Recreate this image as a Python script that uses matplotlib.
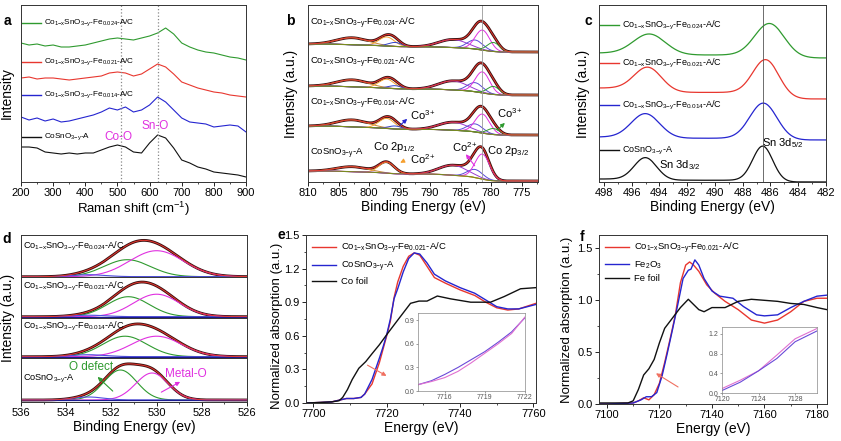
import numpy as np
import matplotlib
matplotlib.use('Agg')
import matplotlib.pyplot as plt
from matplotlib.ticker import MultipleLocator, FormatStrFormatter

plt.rcParams['font.family'] = ['Liberation Sans', 'DejaVu Sans']
plt.rcParams['mathtext.fontset'] = 'custom'
plt.rcParams['mathtext.rm'] = 'Liberation Sans'
plt.rcParams['mathtext.it'] = 'Liberation Sans:italic'
plt.rcParams['mathtext.bf'] = 'Liberation Sans:bold'
plt.rcParams['axes.linewidth'] = 0.7
plt.rcParams['axes.edgecolor'] = '#333333'
plt.rcParams['xtick.labelsize'] = 8
plt.rcParams['ytick.labelsize'] = 8

GREEN = '#2f9a2f'
RED = '#e8372f'
BLUE = '#2525d0'
BLACK = '#111111'
MAG = '#e030e0'

# sample names ({-} keeps the dash tight, no operator spacing)
L024 = r'Co$_{\mathrm{1{-}x}}$SnO$_{\mathrm{3{-}y}}$-Fe$_{\mathrm{0.024}}$-A/C'
L021 = r'Co$_{\mathrm{1{-}x}}$SnO$_{\mathrm{3{-}y}}$-Fe$_{\mathrm{0.021}}$-A/C'
L014 = r'Co$_{\mathrm{1{-}x}}$SnO$_{\mathrm{3{-}y}}$-Fe$_{\mathrm{0.014}}$-A/C'
LA = r'CoSnO$_{\mathrm{3{-}y}}$-A'

# ---- a: raman (offset traces, arbitrary units)
raman_x = [200, 225, 250, 275, 300, 325, 350, 375, 400, 425, 450, 475, 500, 525,
           550, 575, 600, 625, 650, 675, 700, 725, 750, 775, 800, 825, 850, 875, 900]
raman_024 = [139, 137, 138, 136, 137, 135, 135, 136, 137, 139, 141, 143, 144, 143,
             142, 144, 146, 149, 154, 148, 139, 135, 132, 130, 129, 127, 125, 124, 122]
raman_021 = [104, 105, 103, 104, 104, 103, 102, 103, 104, 105, 106, 109, 110, 109,
             106, 108, 113, 118, 115, 108, 100, 97, 94, 92, 90, 89, 87, 86, 85]
raman_014 = [65, 62, 64, 61, 63, 60, 61, 63, 65, 67, 70, 74, 72, 75,
             70, 72, 77, 85, 80, 72, 64, 60, 59, 58, 55, 56, 57, 56, 50]
raman_A = [35, 35, 34, 30, 29, 28, 29, 28, 29, 29, 32, 35, 37, 35,
           30, 29, 39, 47, 44, 34, 22, 19, 15, 13, 10, 9, 8, 7, 5]

# ---- b: Co 2p fit components (centre, fwhm) and heights per sample
co_centres = [802.7, 797.1, 795.7, 786.2, 782.6, 781.4, 779.6]
co_fwhm = [6.0, 3.0, 2.5, 5.5, 3.0, 2.8, 2.4]
co_colors = ['#c8843a', '#f5a030', '#3344cc', '#9a3ad0', '#5a4ad8', MAG, GREEN]
co_heights = [[7, 9, 4, 8, 9, 20, 9],
              [7, 9, 3, 9, 9, 21, 8],
              [7, 10, 3, 8, 8, 19, 6],
              [5, 11, 0, 10, 8, 25, 0]]
co_bg_left = [138, 96, 56, 11]
co_bg_right = [130, 87, 47, 1]
co_names = [L024, L021, L014, LA]

# ---- c: Sn 3d peaks (centre, height, fwhm)
sn_peaks = [[(494.7, 20, 2.7), (486.05, 33, 2.5)],
            [(494.8, 23, 2.3), (486.3, 36, 2.2)],
            [(495.0, 24, 2.4), (486.5, 36, 2.3)],
            [(495.0, 22, 1.9), (486.55, 35, 1.7)]]
sn_bg_left = [129, 94, 45, 3]
sn_bg_right = [124, 83, 42, 0]
sn_colors = [GREEN, RED, BLUE, BLACK]
sn_names = [L024, L021, L014, LA]

# ---- d: O 1s components: O defect, Metal-O, adsorbed (centre, height, fwhm)
o_defect = [(531.3, 17, 2.4), (531.25, 20, 2.2), (531.4, 20.5, 2.3), (531.6, 30, 1.7)]
o_metal = [(530.0, 26, 2.8), (530.0, 22.5, 2.4), (530.0, 20.5, 2.6), (530.2, 27, 1.7)]
o_ads = [(533.0, 2, 1.8), (533.0, 1.5, 1.8), (533.0, 2, 1.8), (533.0, 3, 1.6)]
o_names = [L024, L021, L014, LA]

# ---- e: Co K-edge XANES
e_x = [7698, 7702, 7705, 7707, 7709, 7711, 7713, 7714, 7716, 7718, 7719, 7720, 7721,
       7722, 7723, 7724.5, 7726, 7727.5, 7729, 7731, 7733, 7736, 7740, 7744, 7747,
       7750, 7753, 7756, 7760.7]
e_fe021 = [0.0, 0.005, 0.01, 0.025, 0.04, 0.04, 0.05, 0.08, 0.17, 0.36, 0.48, 0.60, 0.73,
           0.94, 1.08, 1.22, 1.31, 1.34, 1.32, 1.22, 1.12, 1.07, 1.01, 0.96, 0.90,
           0.85, 0.83, 0.84, 0.89]
e_coA = [0.0, 0.005, 0.01, 0.025, 0.04, 0.04, 0.05, 0.08, 0.21, 0.40, 0.50, 0.61, 0.75,
         0.93, 1.02, 1.17, 1.29, 1.34, 1.33, 1.25, 1.15, 1.09, 1.03, 0.98, 0.92,
         0.86, 0.84, 0.84, 0.88]
e_foil_x = [7698, 7702, 7705, 7707, 7708, 7709.3, 7710.6, 7712.4, 7714.3, 7716, 7718,
            7720, 7723, 7726.5, 7728.8, 7731, 7733.8, 7737.4, 7742.9, 7748.3, 7752,
            7756.5, 7760.7]
e_foil = [0.0, 0.005, 0.01, 0.02, 0.05, 0.12, 0.21, 0.31, 0.37, 0.44, 0.52,
          0.61, 0.74, 0.89, 0.91, 0.91, 0.955, 0.93, 0.90, 0.90, 0.95, 1.02, 1.03]
e_in_x = [7714, 7715, 7716, 7717, 7718, 7719, 7720, 7721, 7722]
e_in_coA = [0.08, 0.13, 0.21, 0.30, 0.40, 0.50, 0.62, 0.75, 0.93]
e_in_fe021 = [0.08, 0.12, 0.17, 0.25, 0.36, 0.48, 0.60, 0.73, 0.94]

# ---- f: Fe K-edge XANES
f_x = [7097, 7100, 7110, 7112, 7114, 7116, 7118, 7120, 7122, 7124, 7126, 7128, 7130,
       7131.5, 7133, 7135, 7138, 7141, 7145, 7150, 7155, 7160, 7165, 7170, 7175,
       7180, 7183.8]
f_fe021 = [0.0, 0.0, 0.01, 0.03, 0.06, 0.04, 0.09, 0.20, 0.40, 0.62, 0.85, 1.17, 1.34,
           1.37, 1.34, 1.28, 1.15, 1.07, 0.99, 0.91, 0.81, 0.78, 0.81, 0.89, 0.99,
           1.02, 1.02]
f_ox_x = [7097, 7100, 7110, 7113, 7115, 7117, 7119, 7121, 7123, 7125, 7127, 7129, 7131,
          7132, 7133.5, 7135, 7137, 7140, 7143, 7148, 7152, 7157, 7160, 7165, 7170,
          7175, 7180, 7183.8]
f_fe2o3 = [0.0, 0.0, 0.01, 0.04, 0.07, 0.07, 0.11, 0.27, 0.49, 0.72, 0.96, 1.21, 1.29,
           1.30, 1.39, 1.34, 1.21, 1.09, 1.04, 1.02, 0.94, 0.86, 0.85, 0.86, 0.93,
           0.99, 1.04, 1.05]
f_foil_x = [7097, 7100, 7108, 7110, 7112, 7114, 7116, 7118, 7120, 7122, 7125, 7128,
            7131, 7133, 7135, 7137, 7140, 7145, 7150, 7155, 7160, 7165, 7170, 7175,
            7180, 7183.8]
f_foil = [0.01, 0.01, 0.01, 0.03, 0.14, 0.28, 0.34, 0.43, 0.59, 0.73, 0.83, 0.93,
          1.01, 0.96, 0.91, 0.89, 0.93, 0.93, 0.99, 1.01, 1.00, 0.99, 0.97, 0.96,
          0.93, 0.91]
f_in_x = [7120, 7122, 7124, 7126, 7128, 7130.4]
f_in_fe021 = [0.09, 0.26, 0.45, 0.77, 1.10, 1.31]
f_in_fe2o3 = [0.05, 0.22, 0.45, 0.70, 1.04, 1.26]


def gauss(x, c, h, w):
    return h * np.exp(-4 * np.log(2) * (x - c) ** 2 / w ** 2)


def shirley(x, peaks, left, right):
    # x ascending, background rises toward high binding energy
    cum = np.concatenate([[0], np.cumsum((peaks[1:] + peaks[:-1]) / 2 * np.diff(x))])
    return right + (left - right) * cum / cum[-1]


def ax_at(l, t, r, b):
    W, H = 841.0, 441.0
    return fig.add_axes([l / W, 1 - b / H, (r - l) / W, (b - t) / H])


def tag(ax, fy, color, text, x0=0.004, x1=0.09, fs=6.3):
    ax.plot([x0, x1], [fy, fy], color=color, lw=1, transform=ax.transAxes)
    ax.text(x1 + 0.01, fy, text, transform=ax.transAxes, va='center', fontsize=fs)


def style(ax):
    ax.tick_params(direction='out', length=3, width=0.6, pad=1.5)
    ax.tick_params(which='minor', direction='out', length=1.6, width=0.5)


fig = plt.figure(figsize=(8.41, 4.41), dpi=100)

# ================= a
ax = ax_at(21, 5, 246, 182)
ax.plot(raman_x, raman_024, color=GREEN, lw=0.8)
ax.plot(raman_x, raman_021, color=RED, lw=0.8)
ax.plot(raman_x, raman_014, color=BLUE, lw=0.8)
ax.plot(raman_x, raman_A, color=BLACK, lw=0.8)
ax.axvline(510, color='#888888', ls=':', lw=0.9)
ax.axvline(625, color='#888888', ls=':', lw=0.9)
ax.set_xlim(200, 900)
ax.set_ylim(0, 177)
ax.set_yticks([])
ax.xaxis.set_major_locator(MultipleLocator(100))
ax.xaxis.set_minor_locator(MultipleLocator(50))
style(ax)
for fy, c, t in [(0.898, GREEN, L024), (0.678, RED, L021), (0.492, BLUE, L014), (0.254, BLACK, LA)]:
    tag(ax, fy, c, t, fs=5.9)
ax.text(503, 45, 'Co-O', color=MAG, fontsize=8.5, ha='center', va='center')
ax.text(618, 56, 'Sn-O', color=MAG, fontsize=8.5, ha='center', va='center')
ax.set_xlabel('Raman shift (cm$^{-1}$)', fontsize=9.5, labelpad=1)
ax.set_ylabel('Intensity', fontsize=10, labelpad=2)
ax.yaxis.set_label_coords(-0.032, 0.5)

# ================= b
ax = ax_at(308, 5, 538, 182)
xb = np.linspace(772, 812, 600)
for k in range(4):
    comps = [gauss(xb, c, h, w) for c, h, w in zip(co_centres, co_heights[k], co_fwhm)]
    tot = np.sum(comps, axis=0)
    bg = shirley(xb, tot, co_bg_left[k], co_bg_right[k])
    ax.plot(xb, bg + tot, color='#3a1010', lw=2.0)
    for comp, col, h in zip(comps, co_colors, co_heights[k]):
        if h > 0:
            ax.plot(xb, bg + comp, color=col, lw=0.7)
    ax.plot(xb, bg, color='#7a8a20', lw=0.8)
    ax.plot(xb, bg + tot, color=RED, lw=0.7)
ax.axvline(781.4, color='#999999', lw=0.6)
ax.set_xlim(810, 772.3)
ax.set_ylim(0, 177)
ax.set_yticks([])
ax.xaxis.set_major_locator(MultipleLocator(5))
ax.xaxis.set_minor_locator(MultipleLocator(2.5))
style(ax)
for y, t in zip([159, 120, 79, 29], co_names):
    ax.text(809.6, y, t, fontsize=6.8, va='center')
ax.text(799.4, 35, r'Co 2p$_{\mathrm{1/2}}$', fontsize=8, va='center')
ax.text(780.6, 31, r'Co 2p$_{\mathrm{3/2}}$', fontsize=8, va='center')
ax.text(793.3, 23, r'Co$^{2+}$', fontsize=8, va='center')
ax.text(786.4, 35, r'Co$^{2+}$', fontsize=8, va='center')
ax.text(793.2, 67, r'Co$^{3+}$', fontsize=8, va='center')
ax.text(779.0, 69, r'Co$^{3+}$', fontsize=8, va='center')
arw = dict(arrowstyle='-|>', lw=0.8, mutation_scale=6)
ax.annotate('', xy=(793.4, 65), xytext=(795.2, 55), arrowprops=dict(arw, color=BLUE))
ax.annotate('', xy=(777.4, 61), xytext=(779.3, 50), arrowprops=dict(arw, color=GREEN))
ax.annotate('', xy=(795.3, 18), xytext=(794.0, 22), arrowprops=dict(arw, color='#f5a030'))
ax.annotate('', xy=(784.4, 30), xytext=(782.4, 14), arrowprops=dict(arw, color=MAG))
ax.set_xlabel('Binding Energy (eV)', fontsize=10, labelpad=1)
ax.set_ylabel('Intensity (a.u.)', fontsize=10, labelpad=2)
ax.yaxis.set_label_coords(-0.042, 0.5)

# ================= c
ax = ax_at(599, 5, 826, 182)
xc = np.linspace(481, 499, 600)
for k in range(4):
    tot = np.sum([gauss(xc, c, h, w) for c, h, w in sn_peaks[k]], axis=0)
    bg = shirley(xc, tot, sn_bg_left[k], sn_bg_right[k])
    ax.plot(xc, bg + tot, color=sn_colors[k], lw=0.9)
ax.axvline(486.55, color='#555555', lw=0.6)
ax.set_xlim(498.35, 482)
ax.set_ylim(0, 177)
ax.set_yticks([])
ax.xaxis.set_major_locator(MultipleLocator(2))
ax.xaxis.set_minor_locator(MultipleLocator(1))
style(ax)
for fy, c, t in zip([0.887, 0.672, 0.435, 0.181], sn_colors, sn_names):
    tag(ax, fy, c, t, fs=6.5)
ax.text(486.6, 39, r'Sn 3d$_{\mathrm{5/2}}$', fontsize=8, va='center')
ax.text(494.0, 17, r'Sn 3d$_{\mathrm{3/2}}$', fontsize=8, va='center')
ax.set_xlabel('Binding Energy (eV)', fontsize=10, labelpad=1)
ax.set_ylabel('Intensity (a.u.)', fontsize=10, labelpad=2)
ax.yaxis.set_label_coords(-0.04, 0.5)

# ================= d (four stacked frames)
xd = np.linspace(525.5, 536.5, 500)
frames = [(235, 277, (-0.3, 41.7)), (277, 318, (-1.3, 39.7)),
          (318, 358, (-1.3, 38.7)), (358, 402, (-2.0, 42.0))]
for k, (t, b, yl) in enumerate(frames):
    ax = ax_at(21, t, 247, b)
    g = gauss(xd, *o_defect[k])
    m = gauss(xd, *o_metal[k])
    s = gauss(xd, *o_ads[k])
    env = g + m + s
    ax.plot(xd, env, color='#3a1010', lw=2.0)
    ax.plot(xd, g, color=GREEN, lw=0.8)
    ax.plot(xd, m, color=MAG, lw=0.8)
    ax.plot(xd, s, color='#5050e0', lw=0.8)
    ax.plot(xd, np.zeros_like(xd), color='#1a1a90', lw=0.9)
    ax.plot(xd, env, color=RED, lw=0.7)
    ax.set_xlim(536, 526)
    ax.set_ylim(*yl)
    ax.set_yticks([])
    ax.xaxis.set_major_locator(MultipleLocator(2))
    ax.xaxis.set_minor_locator(MultipleLocator(1))
    style(ax)
    if k < 3:
        ax.tick_params(axis='x', which='both', length=0, labelbottom=False)
    ax.text(535.9, 30.5 if k < 3 else 21.7, o_names[k], fontsize=6.6, va='center')
    if k == 3:
        ax.text(532.9, 33, 'O defect', color=GREEN, fontsize=8.5, ha='center', va='center')
        ax.text(528.7, 26, 'Metal-O', color=MAG, fontsize=8.5, ha='center', va='center')
        ax.annotate('', xy=(532.7, 25), xytext=(531.85, 7),
                    arrowprops=dict(arw, color=GREEN))
        ax.annotate('', xy=(528.85, 19.5), xytext=(529.9, 6.5),
                    arrowprops=dict(arw, color=MAG))
        ax.set_xlabel('Binding Energy (ev)', fontsize=10, labelpad=1)
fig.text(8 / 841, 1 - 318 / 441, 'Intensity (a.u.)', rotation=90, fontsize=10,
         ha='center', va='center')

# ================= e
ax = ax_at(306, 235, 536, 403)
ax.plot(e_x, e_fe021, color=RED, lw=1.0, label=L021)
ax.plot(e_x, e_coA, color=BLUE, lw=1.0, label=LA)
ax.plot(e_foil_x, e_foil, color=BLACK, lw=1.0, label='Co foil')
ax.set_xlim(7698, 7760.7)
ax.set_ylim(0, 1.5)
ax.xaxis.set_major_locator(MultipleLocator(20))
ax.xaxis.set_minor_locator(MultipleLocator(10))
ax.yaxis.set_major_locator(MultipleLocator(0.3))
ax.yaxis.set_minor_locator(MultipleLocator(0.15))
ax.yaxis.set_major_formatter(FormatStrFormatter('%.1f'))
style(ax)
ax.legend(loc='upper left', frameon=False, fontsize=6.8, handlelength=2.6,
          borderaxespad=0.2, labelspacing=0.35, handletextpad=0.5)
ax.annotate('', xy=(7720.6, 0.23), xytext=(7714.1, 0.35),
            arrowprops=dict(arw, color='#f07060'))
ax.set_xlabel('Energy (eV)', fontsize=10, labelpad=1)
ax.set_ylabel('Normalized absorption (a.u.)', fontsize=9.5, labelpad=2)
ax.yaxis.set_label_coords(-0.1, 0.46)

ai = ax_at(418, 313, 525, 391)
ai.plot(e_in_x, e_in_coA, color='#6a4ad8', lw=0.8)
ai.plot(e_in_x, e_in_fe021, color='#e070d0', lw=0.8)
ai.set_xlim(7714, 7722)
ai.set_ylim(0, 0.99)
ai.set_xticks([7716, 7719, 7722])
ai.set_yticks([0.0, 0.3, 0.6, 0.9])
ai.yaxis.set_major_formatter(FormatStrFormatter('%.1f'))
ai.tick_params(labelsize=5, length=1.5, width=0.4, pad=1, colors='#555555')
for sp in ai.spines.values():
    sp.set_color('#888888')
    sp.set_linewidth(0.5)

# ================= f
ax = ax_at(599, 235, 827, 404)
ax.plot(f_x, f_fe021, color=RED, lw=1.0, label=L021)
ax.plot(f_ox_x, f_fe2o3, color=BLUE, lw=1.0, label=r'Fe$_{\mathrm{2}}$O$_{\mathrm{3}}$')
ax.plot(f_foil_x, f_foil, color=BLACK, lw=1.0, label='Fe foil')
ax.set_xlim(7097, 7183.8)
ax.set_ylim(0, 1.63)
ax.xaxis.set_major_locator(MultipleLocator(20))
ax.xaxis.set_minor_locator(MultipleLocator(10))
ax.yaxis.set_major_locator(MultipleLocator(0.5))
ax.yaxis.set_minor_locator(MultipleLocator(0.25))
ax.yaxis.set_major_formatter(FormatStrFormatter('%.1f'))
style(ax)
ax.legend(loc='upper left', frameon=False, fontsize=6.8, handlelength=2.6,
          borderaxespad=0.2, labelspacing=0.35, handletextpad=0.5)
ax.annotate('', xy=(7117.8, 0.31), xytext=(7128, 0.15),
            arrowprops=dict(arw, color='#f07060'))
ax.set_xlabel('Energy (eV)', fontsize=10, labelpad=1)
ax.set_ylabel('Normalized absorption (a.u.)', fontsize=9.5, labelpad=2)
ax.yaxis.set_label_coords(-0.114, 0.5)

ai = ax_at(722, 327, 817, 393)
ai.plot(f_in_x, f_in_fe021, color='#e070d0', lw=0.8)
ai.plot(f_in_x, f_in_fe2o3, color='#6a4ad8', lw=0.8)
ai.set_xlim(7120, 7130.4)
ai.set_ylim(0, 1.34)
ai.set_xticks([7120, 7124, 7128])
ai.set_yticks([0.0, 0.4, 0.8, 1.2])
ai.yaxis.set_major_formatter(FormatStrFormatter('%.1f'))
ai.tick_params(labelsize=5, length=1.5, width=0.4, pad=1, colors='#555555')
for sp in ai.spines.values():
    sp.set_color('#888888')
    sp.set_linewidth(0.5)

# panel letters
for x, y, s in [(7, 21, 'a'), (290, 21, 'b'), (588, 21, 'c'),
                (7, 239, 'd'), (281, 235, 'e'), (582, 237, 'f')]:
    fig.text(x / 841, 1 - y / 441, s, fontsize=10, fontweight='bold',
             ha='center', va='center')

fig.savefig('out.png', dpi=100)
